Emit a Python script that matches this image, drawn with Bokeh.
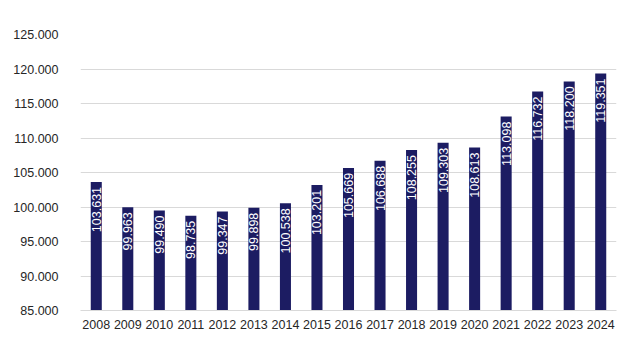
from bokeh.plotting import figure
from bokeh.models import ColumnDataSource, FixedTicker, Range1d, FactorRange
from bokeh.embed import file_html
from bokeh.resources import INLINE
from bokeh.core.properties import value
import math

years = ["2008", "2009", "2010", "2011", "2012", "2013", "2014", "2015", "2016",
         "2017", "2018", "2019", "2020", "2021", "2022", "2023", "2024"]
values = [103631, 99963, 99490, 98735, 99347, 99898, 100538, 103201, 105669,
          106688, 108255, 109303, 108613, 113098, 116732, 118200, 119351]
y_ticks = [85000, 90000, 95000, 100000, 105000, 110000, 115000, 120000, 125000]


def fmt(v):
    return f"{v:,}".replace(",", ".")


src = ColumnDataSource(dict(x=years, top=values, label=[fmt(v) for v in values]))

p = figure(width=619, height=341, output_backend="svg", toolbar_location=None,
           x_range=FactorRange(*years, range_padding=0),
           y_range=Range1d(85000, 125000),
           min_border_left=80, min_border_right=3, min_border_top=34, min_border_bottom=31)

p.vbar(x="x", top="top", bottom=85000, width=0.35, source=src,
       fill_color="#1c1c62", line_color=None)

p.text(x="x", y="top", text="label", source=src, angle=math.pi / 2,
       text_align="right", text_baseline="middle", y_offset=5,
       text_color="white", text_font=value("Liberation Sans"), text_font_size="12.5px")

p.outline_line_color = None
p.background_fill_color = "white"
p.border_fill_color = "white"

p.xgrid.grid_line_color = None
p.ygrid.grid_line_color = "#d9d9d9"
p.ygrid.grid_line_width = 1
p.yaxis.ticker = FixedTicker(ticks=y_ticks)
p.yaxis.major_label_overrides = {t: fmt(t) for t in y_ticks}

for ax in (p.xaxis[0], p.yaxis[0]):
    ax.axis_line_color = None
    ax.major_tick_line_color = None
    ax.minor_tick_line_color = None
    ax.major_tick_out = 0
    ax.major_tick_in = 0
    ax.major_label_text_font = "Liberation Sans"
    ax.major_label_text_font_size = "12.5px"
    ax.major_label_text_color = "#262626"

p.xaxis.major_label_standoff = 9
p.yaxis.major_label_standoff = 22
p.xaxis.axis_line_color = "#d9d9d9"

open("out.html", "w").write(file_html(p, INLINE))
